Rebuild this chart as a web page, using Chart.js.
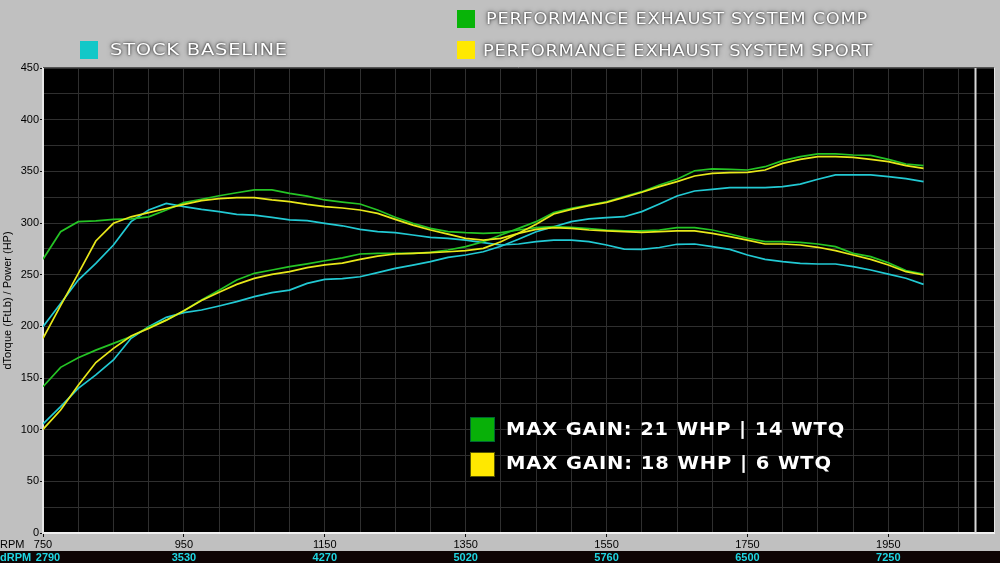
<!DOCTYPE html>
<html>
<head>
<meta charset="utf-8">
<script src="https://cdn.jsdelivr.net/npm/chart.js@4.4.0/dist/chart.umd.min.js"></script>
<style>
  html, body { margin: 0; padding: 0; background: #c0c0c0; }
  #wrap { position: relative; width: 1000px; height: 563px; overflow: hidden; }
  #chart { position: absolute; left: 0; top: 0; }
  .sw { position: absolute; width: 18px; height: 18px; }
  .txt {
    position: absolute; white-space: nowrap; color: #fff;
    font-family: 'DejaVu Sans', sans-serif; transform-origin: 0 50%;
    text-shadow: 0 0 2px rgba(0,0,0,0.85), 0 0 5px rgba(0,0,0,0.55);
  }
  .leg { font-size: 15px; letter-spacing: 0.6px; line-height: 16px; }
  .gain { font-size: 17px; font-weight: bold; letter-spacing: 0.8px; line-height: 20px; }
</style>
</head>
<body>
<div id="wrap">
  <canvas id="chart" width="1000" height="563"></canvas>

  <div class="sw" style="left:457px;top:10px;background:#08b408"></div>
  <div class="txt leg" data-w="382" style="left:486px;top:11px">PERFORMANCE EXHAUST SYSTEM COMP</div>
  <div class="sw" style="left:80px;top:41px;background:#12c8c8"></div>
  <div class="txt leg" data-w="178" style="left:110px;top:42px">STOCK BASELINE</div>
  <div class="sw" style="left:457px;top:41px;background:#ffe800"></div>
  <div class="txt leg" data-w="390" style="left:483px;top:43px">PERFORMANCE EXHAUST SYSTEM SPORT</div>

  <div class="sw" style="left:470px;top:417px;width:23px;height:23px;background:#08b008;border:1px solid #063"></div>
  <div class="txt gain" data-w="339" style="left:506px;top:419px">MAX GAIN: 21 WHP | 14 WTQ</div>
  <div class="sw" style="left:470px;top:452px;width:23px;height:23px;background:#ffe800;border:1px solid #550"></div>
  <div class="txt gain" data-w="326" style="left:506px;top:453px">MAX GAIN: 18 WHP | 6 WTQ</div>
</div>
<script>
const rpm = [750, 775, 800, 825, 850, 875, 900, 925, 950, 975, 1000, 1025, 1050, 1075, 1100, 1125, 1150,
  1175, 1200, 1225, 1250, 1275, 1300, 1325, 1350, 1375, 1400, 1425, 1450, 1475, 1500, 1525, 1550,
  1575, 1600, 1625, 1650, 1675, 1700, 1725, 1750, 1775, 1800, 1825, 1850, 1875, 1900, 1925, 1950, 1975, 2000];

const stockTorque = [199.7, 222, 244.8, 261, 278.7, 301.3, 312.6, 319, 315.8, 313.2, 311, 308.4, 307.7, 305.5, 303, 302.3, 299.7,
  297.3, 293.9, 291.6, 290.6, 288.4, 286.1, 285.2, 283.5, 281, 278.7, 279.7, 281.9, 283.5, 283.5, 281.9, 278.7,
  274.8, 274.5, 276.3, 279.4, 279.7, 277.1, 274.5, 269, 264.8, 262.6, 261, 260.3, 260.3, 257.7, 254.5, 250.6, 246.5, 240.6];
const stockPower = [105.5, 122.3, 140, 153, 167.4, 188.4, 199.7, 208.7, 213.2, 215.8, 219.7, 223.9, 228.7, 232.6, 235, 241.6, 245.5,
  246.2, 248, 251.9, 256.1, 259.3, 262.6, 266.8, 269, 272.2, 277.5, 284.2, 291.6, 296.4, 301.3, 303.9, 305.2,
  306.1, 311, 318.4, 326.1, 331, 332.6, 334.2, 334.2, 334.2, 335.2, 337.7, 342.3, 346.5, 346.5, 346.5, 344.8, 342.9, 340];

const compTorque = [265, 291.6, 301.3, 302, 303.5, 304, 306, 312.6, 319.7, 323, 326.4, 329.3, 332, 332, 328.7, 326, 322.3,
  320.2, 318.4, 312.6, 305.5, 299.7, 294.8, 291.6, 290.6, 290, 290.6, 293.2, 295.5, 296.4, 295.8, 294.5, 293.2,
  292.3, 292.3, 293.2, 295.5, 295.5, 293.2, 289.4, 285.2, 282, 282, 281.3, 279.7, 277.1, 270.6, 267.4, 261.6, 253.9, 250.6];
const compPower = [141.6, 160.3, 169.7, 177, 183.5, 190, 199, 206, 215, 225.5, 235, 244.8, 251.3, 254.5, 257.7, 260.5, 263.5,
  266.2, 270, 270.6, 270.6, 270.6, 271.6, 273.9, 277.1, 281.9, 288.4, 294.8, 301.3, 310, 314.2, 317.4, 320.6,
  325.5, 330.3, 336.8, 342.3, 350.6, 352.3, 351.9, 351.3, 354.5, 360.3, 364.2, 366.8, 366.8, 365.8, 365.5, 361.6, 357.1, 355.5];

const sportTorque = [188.4, 220, 251, 282.6, 299.7, 306, 310, 314, 318, 321.6, 323.5, 324.5, 324.5, 322.3, 320.6, 318, 315.8,
  314.5, 312.6, 309.3, 303.5, 298, 293.2, 289.3, 285.2, 283.5, 285.2, 290, 293.9, 295.5, 294.8, 293.2, 292.3,
  291.6, 291, 291.6, 292.3, 292.3, 290, 286.8, 283.5, 279.7, 279.7, 278.7, 276.5, 273.2, 269, 264.8, 259.4, 252.9, 249.7];
const sportPower = [100.3, 119, 143, 165, 178.7, 190.6, 198, 206, 215, 225, 233, 240.6, 246.4, 250.3, 252.9, 256.8, 259.5,
  261.1, 264.8, 268, 270, 270.6, 271.3, 272.2, 273.2, 275.5, 281.9, 290, 298.7, 308.7, 313.2, 316.8, 320,
  324.8, 329.7, 335.2, 340, 345.5, 348, 348.7, 349, 351.3, 357.7, 361.6, 364.2, 364.2, 363.5, 361.6, 359.4, 355.5, 352.9];

// labelled rpm ticks and the matching dRPM readout underneath
const rpmLabels = [750, 950, 1150, 1350, 1550, 1750, 1950];
const dRpmLabels = ['2790', '3530', '4270', '5020', '5760', '6500', '7250'];
const cursorRpm = 2073;

const CYAN = '#22c9d3';
const GREEN = '#25c425';
const YELLOW = '#e8e81a';

function pts(ys) {
  return rpm.map((r, i) => ({ x: r, y: ys[i] }));
}

function line(data, color) {
  return { data: pts(data), borderColor: color, borderWidth: 1.7, pointRadius: 0, tension: 0, fill: false };
}

const dynoFrame = {
  id: 'dynoFrame',
  beforeDraw(chart) {
    const { ctx, chartArea: a } = chart;
    ctx.save();
    ctx.fillStyle = '#000';
    ctx.fillRect(a.left, a.top, a.right - a.left, a.bottom - a.top);
    ctx.restore();
  },
  afterDraw(chart) {
    const { ctx, chartArea: a } = chart;
    const x = chart.scales.x;
    ctx.save();
    // cursor
    const cx = Math.round(x.getPixelForValue(cursorRpm)) + 0.5;
    ctx.strokeStyle = '#d8d8d8';
    ctx.lineWidth = 2;
    ctx.beginPath();
    ctx.moveTo(cx, a.top);
    ctx.lineTo(cx, a.bottom);
    ctx.stroke();
    // top / right edge of the plot
    ctx.strokeStyle = '#555';
    ctx.lineWidth = 1;
    ctx.beginPath();
    ctx.moveTo(a.left, a.top - 0.5);
    ctx.lineTo(a.right, a.top - 0.5);
    ctx.stroke();
    ctx.strokeStyle = '#e8e8e8';
    ctx.beginPath();
    ctx.moveTo(a.right + 0.5, a.top);
    ctx.lineTo(a.right + 0.5, a.bottom);
    ctx.stroke();
    // RPM caption
    ctx.font = '11px "Liberation Sans", Arial, sans-serif';
    ctx.textBaseline = 'middle';
    ctx.fillStyle = '#000';
    ctx.textAlign = 'left';
    ctx.fillText('RPM', 0, 545);
    // dRPM strip
    ctx.fillStyle = '#0e0404';
    ctx.fillRect(0, 551, chart.width, chart.height - 551);
    ctx.fillStyle = '#1fd6e2';
    ctx.font = 'bold 11px "Liberation Sans", Arial, sans-serif';
    ctx.fillText('dRPM', 0, 557.5);
    ctx.textAlign = 'center';
    rpmLabels.forEach((r, i) => {
      const px = x.getPixelForValue(r) + (i === 0 ? 5 : 0);
      ctx.fillText(dRpmLabels[i], px, 557.5);
    });
    ctx.restore();
  }
};

new Chart(document.getElementById('chart'), {
  type: 'line',
  data: {
    datasets: [
      line(sportTorque, YELLOW),
      line(sportPower, YELLOW),
      line(compTorque, GREEN),
      line(compPower, GREEN),
      line(stockTorque, CYAN),
      line(stockPower, CYAN)
    ]
  },
  options: {
    responsive: false,
    animation: false,
    layout: { padding: { top: 68, right: 6, left: 0, bottom: 0 } },
    plugins: { legend: { display: false }, tooltip: { enabled: false } },
    scales: {
      x: {
        type: 'linear',
        min: 750,
        max: 2100,
        afterFit: (s) => { s.height = 30; },
        border: { color: '#f0f0f0', width: 2 },
        grid: {
          color: '#2f2f2f',
          lineWidth: 1,
          tickLength: 4,
          tickColor: (c) => (rpmLabels.includes(c.tick && c.tick.value) ? '#111' : 'rgba(0,0,0,0)')
        },
        ticks: {
          stepSize: 50,
          autoSkip: false,
          maxRotation: 0,
          padding: 1,
          color: '#000',
          font: { family: '"Liberation Sans", Arial, sans-serif', size: 11 },
          callback: (v) => (rpmLabels.includes(v) ? String(v) : '')
        }
      },
      y: {
        min: 0,
        max: 450,
        afterFit: (s) => { s.width = 43; },
        border: { color: '#e6e6e6', width: 2 },
        grid: {
          color: '#2f2f2f',
          lineWidth: 1,
          tickLength: 3,
          tickColor: (c) => (c.tick && c.tick.value % 50 === 0 ? '#111' : 'rgba(0,0,0,0)')
        },
        ticks: {
          stepSize: 25,
          padding: 1,
          color: '#000',
          font: { family: '"Liberation Sans", Arial, sans-serif', size: 11 },
          callback: (v) => (v % 50 === 0 ? String(v) : '')
        },
        title: {
          display: true,
          text: 'dTorque (FtLb) / Power (HP)',
          color: '#000',
          padding: { top: 1, bottom: 0 },
          font: { family: '"Liberation Sans", Arial, sans-serif', size: 11 }
        }
      }
    }
  },
  plugins: [dynoFrame]
});

// stretch the caption texts to the width they have in the original
document.querySelectorAll('.txt').forEach((el) => {
  const w = el.getBoundingClientRect().width;
  el.style.transform = 'scaleX(' + (Number(el.dataset.w) / w).toFixed(3) + ')';
});
</script>
</body>
</html>
